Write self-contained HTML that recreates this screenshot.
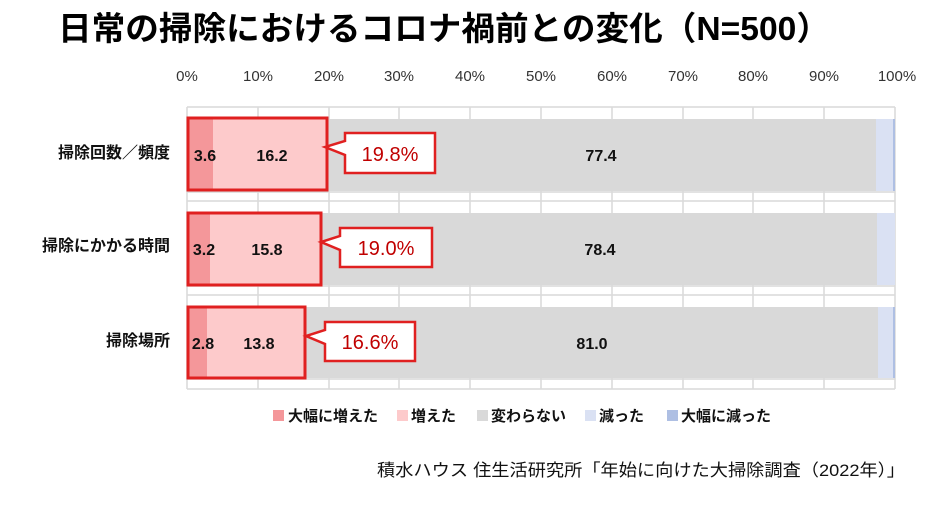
<!DOCTYPE html>
<html><head><meta charset="utf-8"><style>
body{margin:0;background:#fff;}
svg text{font-family:"Liberation Sans","Noto Sans CJK JP",sans-serif;}
</style></head><body>
<svg width="940" height="502" xmlns="http://www.w3.org/2000/svg">
<text x="58" y="40" font-size="33" font-weight="bold" fill="#000" textLength="772" lengthAdjust="spacingAndGlyphs">日常の掃除におけるコロナ禍前との変化（N=500）</text>
<g font-size="15" fill="#333" text-anchor="middle">
<text x="187" y="81">0%</text><text x="258" y="81">10%</text><text x="329" y="81">20%</text><text x="399" y="81">30%</text><text x="470" y="81">40%</text><text x="541" y="81">50%</text><text x="612" y="81">60%</text><text x="683" y="81">70%</text><text x="753" y="81">80%</text><text x="824" y="81">90%</text><text x="897" y="81">100%</text>
</g>
<g stroke="#d9d9d9" stroke-width="1.5">
<line x1="187" y1="107" x2="895" y2="107"/><line x1="187" y1="192" x2="895" y2="192"/><line x1="187" y1="201" x2="895" y2="201"/><line x1="187" y1="286" x2="895" y2="286"/><line x1="187" y1="295" x2="895" y2="295"/><line x1="187" y1="379" x2="895" y2="379"/><line x1="187" y1="389" x2="895" y2="389"/>
<line x1="187" y1="107" x2="187" y2="389"/><line x1="258" y1="107" x2="258" y2="389"/><line x1="329" y1="107" x2="329" y2="389"/><line x1="399" y1="107" x2="399" y2="389"/><line x1="470" y1="107" x2="470" y2="389"/><line x1="541" y1="107" x2="541" y2="389"/><line x1="612" y1="107" x2="612" y2="389"/><line x1="683" y1="107" x2="683" y2="389"/><line x1="753" y1="107" x2="753" y2="389"/><line x1="824" y1="107" x2="824" y2="389"/><line x1="895" y1="107" x2="895" y2="389"/>
</g>
<rect x="187" y="119" width="26" height="72" fill="#f4979a"/>
<rect x="213" y="119" width="115" height="72" fill="#fdcacb"/>
<rect x="328" y="119" width="548" height="72" fill="#d9d9d9"/>
<rect x="876" y="119" width="17" height="72" fill="#dae1f3"/>
<rect x="893" y="119" width="2" height="72" fill="#aebfe3"/>
<rect x="187" y="213" width="23" height="72" fill="#f4979a"/>
<rect x="210" y="213" width="112" height="72" fill="#fdcacb"/>
<rect x="322" y="213" width="555" height="72" fill="#d9d9d9"/>
<rect x="877" y="213" width="18" height="72" fill="#dae1f3"/>
<rect x="187" y="307" width="20" height="71" fill="#f4979a"/>
<rect x="207" y="307" width="98" height="71" fill="#fdcacb"/>
<rect x="305" y="307" width="573" height="71" fill="#d9d9d9"/>
<rect x="878" y="307" width="15" height="71" fill="#dae1f3"/>
<rect x="893" y="307" width="2" height="71" fill="#aebfe3"/>
<g fill="none" stroke="#e02020" stroke-width="3">
<rect x="188" y="118" width="139" height="72"/>
<rect x="188" y="213" width="133" height="72"/>
<rect x="188" y="307" width="117" height="71"/>
</g>
<g fill="#fff" stroke="#e02020" stroke-width="2.5">
<path d="M345,133 H435 V173 H345 V155 L325,147 L345,141 Z"/>
<path d="M340,228 H432 V267 H340 V250 L321,242 L340,236 Z"/>
<path d="M325,322 H415 V361 H325 V344 L306,336 L325,330 Z"/>
</g>
<g font-size="20" fill="#c00000" text-anchor="middle">
<text x="390" y="161">19.8%</text><text x="386" y="255">19.0%</text><text x="370" y="349">16.6%</text>
</g>
<g font-size="16" font-weight="bold" fill="#111" text-anchor="middle">
<text x="205" y="161">3.6</text><text x="272" y="161">16.2</text><text x="601" y="161">77.4</text>
<text x="204" y="255">3.2</text><text x="267" y="255">15.8</text><text x="600" y="255">78.4</text>
<text x="203" y="349">2.8</text><text x="259" y="349">13.8</text><text x="592" y="349">81.0</text>
</g>
<g font-size="16" font-weight="bold" fill="#111" text-anchor="end">
<text x="170" y="158">掃除回数／頻度</text><text x="170" y="251">掃除にかかる時間</text><text x="170" y="346">掃除場所</text>
</g>
<g font-size="15" font-weight="bold" fill="#111">
<rect x="273" y="410" width="11" height="11" fill="#f4979a"/><text x="288" y="421">大幅に増えた</text>
<rect x="397" y="410" width="11" height="11" fill="#fdcacb"/><text x="411" y="421">増えた</text>
<rect x="477" y="410" width="11" height="11" fill="#d9d9d9"/><text x="491" y="421">変わらない</text>
<rect x="585" y="410" width="11" height="11" fill="#dae1f3"/><text x="599" y="421">減った</text>
<rect x="667" y="410" width="11" height="11" fill="#aebfe3"/><text x="681" y="421">大幅に減った</text>
</g>
<text x="377" y="476" font-size="17" fill="#111" textLength="528" lengthAdjust="spacingAndGlyphs">積水ハウス 住生活研究所「年始に向けた大掃除調査（2022年）」</text>
</svg>
</body></html>
